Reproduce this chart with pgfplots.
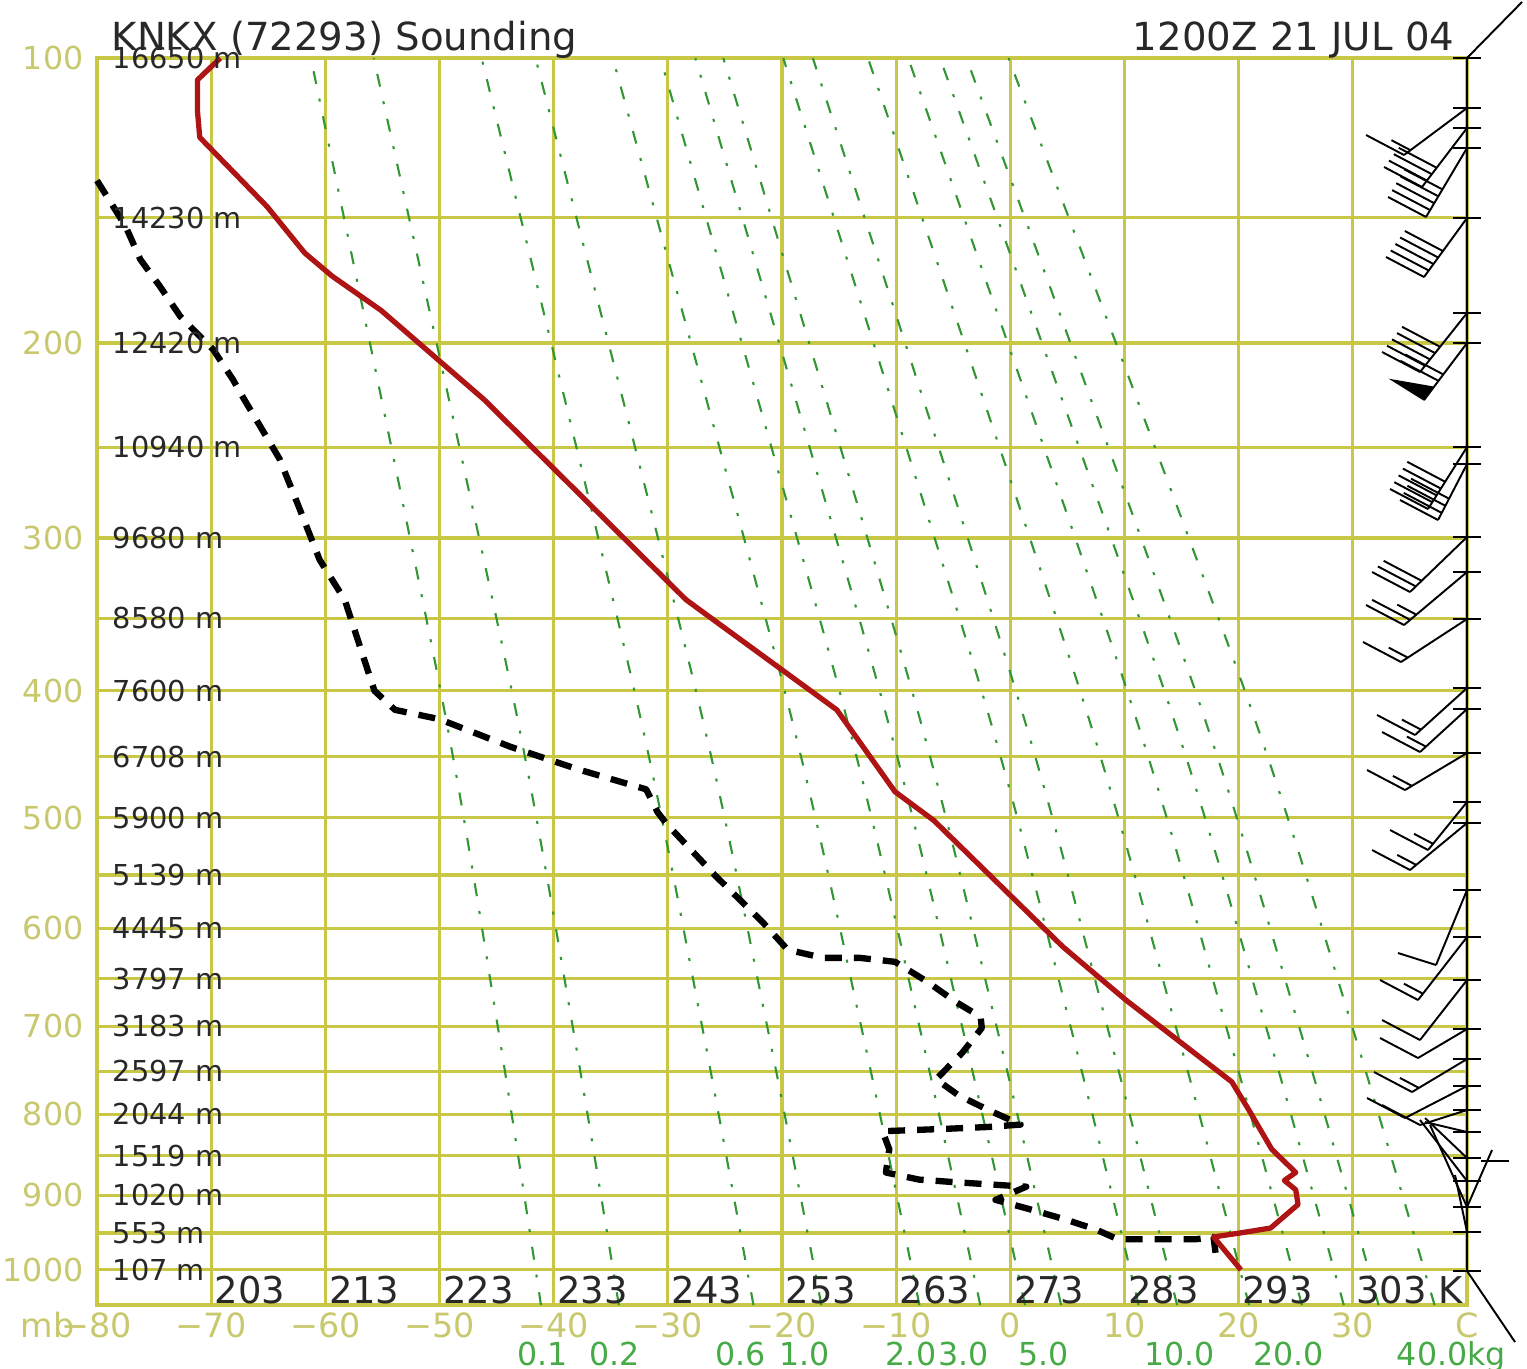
\documentclass[border=0pt]{standalone}
\usepackage{fontspec}
\setmainfont{DejaVu Sans}
\usepackage{pgfplots}
\pgfplotsset{compat=1.18}
\definecolor{gridcol}{RGB}{200,200,70}
\definecolor{labcol}{RGB}{200,200,110}
\definecolor{tcol}{RGB}{175,20,20}
\definecolor{mixcol}{RGB}{50,150,50}
\definecolor{mixlab}{RGB}{70,170,70}
\definecolor{txt}{RGB}{40,40,40}
\tikzset{
  hl/.style={anchor=west, xshift=0.15cm, font=\fontsize{8.2}{9}\selectfont, text=txt, inner sep=0pt},
  pl/.style={anchor=east, xshift=-0.13cm, font=\fontsize{9}{9}\selectfont, text=labcol, inner sep=0pt},
  kl/.style={anchor=base west, xshift=0.03cm, yshift=0.02cm, font=\fontsize{10.5}{11}\selectfont, text=txt, inner sep=0pt},
  cl/.style={anchor=base, yshift=-0.32cm, font=\fontsize{9.5}{10}\selectfont, text=labcol, inner sep=0pt},
  ml/.style={anchor=base, yshift=-0.60cm, font=\fontsize{9}{9}\selectfont, text=mixlab, inner sep=0pt},
}
\begin{document}
\begin{tikzpicture}
\begin{axis}[
  width=13.70cm, height=12.47cm, scale only axis,
  xmin=-80, xmax=40, ymin=100, ymax=1050,
  y dir=reverse,
  y coord trafo/.code={\pgfmathparse{exp(0.286*ln(#1))}},
  y coord inv trafo/.code={\pgfmathparse{exp(ln(#1)/0.286)}},
  xtick={-80,-70,-60,-50,-40,-30,-20,-10,0,10,20,30,40},
  ytick={100,150,200,250,300,350,400,450,500,550,600,650,700,750,800,850,900,950,1000},
  xticklabel=\empty, yticklabel=\empty,
  major tick length=0pt,
  grid=major,
  major grid style={gridcol, line width=0.9pt},
  axis line style={gridcol, line width=0.9pt},
  clip=false,
  mixr/.style={mixcol, line width=0.6pt, smooth, dash pattern=on 0.13cm off 0.15cm on 0.03cm off 0.15cm},
]
% mixing ratio lines (g/kg): 0.1 0.2 0.6 1 2 3 4 5 8 10 15 20 25 30 40
\addplot[mixr] coordinates {(-41.11,1050) (-44.90,700) (-49.90,400) (-61.27,100)};
\addplot[mixr] coordinates {(-34.29,1050) (-38.34,700) (-43.67,400) (-55.76,100)};
\addplot[mixr] coordinates {(-22.50,1050) (-27.00,700) (-32.93,400) (-46.31,100)};
\addplot[mixr] coordinates {(-16.55,1050) (-21.30,700) (-27.54,400) (-41.59,100)};
\addplot[mixr] coordinates {(-7.96,1050) (-13.07,700) (-19.77,400) (-34.82,100)};
\addplot[mixr] coordinates {(-2.63,1050) (-7.97,700) (-14.97,400) (-30.65,100)};
\addplot[mixr] coordinates {(1.29,1050) (-4.23,700) (-11.45,400) (-27.59,100)};
\addplot[mixr] coordinates {(4.45,1050) (-1.21,700) (-8.61,400) (-25.14,100)};
\addplot[mixr] coordinates {(11.24,1050) (5.27,700) (-2.52,400) (-19.89,100)};
\addplot[mixr] coordinates {(14.61,1050) (8.48,700) (0.48,400) (-17.30,100)};
\addplot[mixr] coordinates {(20.91,1050) (14.48,700) (6.11,400) (-12.47,100)};
\addplot[mixr] coordinates {(25.54,1050) (18.89,700) (10.23,400) (-8.95,100)};
\addplot[mixr] coordinates {(29.21,1050) (22.38,700) (13.49,400) (-6.16,100)};
\addplot[mixr] coordinates {(32.26,1050) (25.28,700) (16.20,400) (-3.85,100)};
\addplot[mixr] coordinates {(37.16,1050) (29.93,700) (20.54,400) (-0.16,100)};
% dewpoint
\addplot[black, line width=1.8pt, line join=round, dash pattern=on 0.17cm off 0.12cm] table[x=T, y=p] {
p T
137 -80.0
153 -77.5
165.5 -76.2
176 -74.5
188.5 -72.7
203 -69.8
216.5 -68.1
226 -67.1
256 -64.0
284 -62.2
313 -60.5
338 -58.3
400 -55.7
414 -53.9
421 -50.0
442 -43.8
460 -37.8
476 -31.9
495 -30.9
505 -30.1
551 -25.8
594 -21.7
621 -19.5
629 -16.4
629 -13.2
633 -10.1
653 -7.3
674 -4.8
690 -2.6
702 -2.5
729 -4.2
759 -6.5
778 -4.5
795 -1.9
812 0.9
815 -2.1
817 -5.4
820 -11.2
842 -10.6
871 -10.9
880 -8.0
883 -5.1
886 -1.9
889 1.4
906 -1.3
919 1.9
932 4.9
945 7.5
958 9.4
958 12.4
958 16.3
955 17.8
992 18.1
};
% temperature
\addplot[tcol, line width=1.5pt, line join=round] table[x=T, y=p] {
p T
100 -69.2
106 -71.2
115 -71.2
123 -71.0
146 -65.1
163 -61.8
172 -59.4
186 -55.1
226 -46.1
338 -28.4
414 -15.2
478 -10.1
502 -6.7
618 4.6
672 10.1
762 19.4
795 20.9
842 22.9
871 25.0
881 24.0
893 25.0
912 25.2
943 22.8
950 20.0
955 17.8
1000 20.2
};
% titles
\node[anchor=base west, xshift=0.14cm, yshift=0.07cm, font=\fontsize{11}{11}\selectfont, text=txt, inner sep=0pt] at (axis cs:-80,100) {KNKX (72293) Sounding};
\node[anchor=base east, xshift=-0.12cm, yshift=0.07cm, font=\fontsize{11}{11}\selectfont, text=txt, inner sep=0pt] at (axis cs:40,100) {1200Z 21 JUL 04};
% pressure labels
\node[pl] at (axis cs:-80,100) {100};
\node[pl] at (axis cs:-80,200) {200};
\node[pl] at (axis cs:-80,300) {300};
\node[pl] at (axis cs:-80,400) {400};
\node[pl] at (axis cs:-80,500) {500};
\node[pl] at (axis cs:-80,600) {600};
\node[pl] at (axis cs:-80,700) {700};
\node[pl] at (axis cs:-80,800) {800};
\node[pl] at (axis cs:-80,900) {900};
\node[pl] at (axis cs:-80,1000) {1000};
% heights
\node[hl] at (axis cs:-80,100) {16650 m};
\node[hl] at (axis cs:-80,150) {14230 m};
\node[hl] at (axis cs:-80,200) {12420 m};
\node[hl] at (axis cs:-80,250) {10940 m};
\node[hl] at (axis cs:-80,300) {9680 m};
\node[hl] at (axis cs:-80,350) {8580 m};
\node[hl] at (axis cs:-80,400) {7600 m};
\node[hl] at (axis cs:-80,450) {6708 m};
\node[hl] at (axis cs:-80,500) {5900 m};
\node[hl] at (axis cs:-80,550) {5139 m};
\node[hl] at (axis cs:-80,600) {4445 m};
\node[hl] at (axis cs:-80,650) {3797 m};
\node[hl] at (axis cs:-80,700) {3183 m};
\node[hl] at (axis cs:-80,750) {2597 m};
\node[hl] at (axis cs:-80,800) {2044 m};
\node[hl] at (axis cs:-80,850) {1519 m};
\node[hl] at (axis cs:-80,900) {1020 m};
\node[hl] at (axis cs:-80,950) {553 m};
\node[hl] at (axis cs:-80,1000) {107 m};
% Kelvin labels
\node[kl] at (axis cs:-70,1050) {203};
\node[kl] at (axis cs:-60,1050) {213};
\node[kl] at (axis cs:-50,1050) {223};
\node[kl] at (axis cs:-40,1050) {233};
\node[kl] at (axis cs:-30,1050) {243};
\node[kl] at (axis cs:-20,1050) {253};
\node[kl] at (axis cs:-10,1050) {263};
\node[kl] at (axis cs:0,1050) {273};
\node[kl] at (axis cs:10,1050) {283};
\node[kl] at (axis cs:20,1050) {293};
\node[kl] at (axis cs:30,1050) {303 K};
% Celsius labels
\node[cl] at (axis cs:-80,1050) [anchor=base east, xshift=-0.22cm] {mb};
\node[cl] at (axis cs:-80,1050) {−80};
\node[cl] at (axis cs:-70,1050) {−70};
\node[cl] at (axis cs:-60,1050) {−60};
\node[cl] at (axis cs:-50,1050) {−50};
\node[cl] at (axis cs:-40,1050) {−40};
\node[cl] at (axis cs:-30,1050) {−30};
\node[cl] at (axis cs:-20,1050) {−20};
\node[cl] at (axis cs:-10,1050) {−10};
\node[cl] at (axis cs:0,1050) {0};
\node[cl] at (axis cs:10,1050) {10};
\node[cl] at (axis cs:20,1050) {20};
\node[cl] at (axis cs:30,1050) {30};
\node[cl] at (axis cs:40,1050) {C};
% mixing ratio labels
\node[ml] at (axis cs:-41.0,1050) {0.1};
\node[ml] at (axis cs:-34.7,1050) {0.2};
\node[ml] at (axis cs:-23.6,1050) {0.6};
\node[ml] at (axis cs:-18.0,1050) {1.0};
\node[ml] at (axis cs:-8.7,1050) {2.0};
\node[ml] at (axis cs:-4.1,1050) {3.0};
\node[ml] at (axis cs:2.9,1050) {5.0};
\node[ml] at (axis cs:14.8,1050) {10.0};
\node[ml] at (axis cs:24.4,1050) {20.0};
\node[ml] at (axis cs:33.8,1050) [anchor=base west] {40.0kg};
\end{axis}
% wind barbs, drawn in a pixel-unit overlay axis
\begin{axis}[
  width=13.70cm, height=12.47cm, scale only axis,
  xmin=97, xmax=1467, ymin=58, ymax=1305, y dir=reverse,
  hide axis, clip=false,
]
\addplot[black, line width=0.55pt, quiver={u=\thisrow{u}, v=\thisrow{v}}] table {
x y u v
1467 58 0 1213
1453 58 28 0
1453 108 28 0
1453 128 28 0
1453 148 28 0
1453 218 28 0
1453 313 28 0
1453 343 28 0
1453 447 28 0
1453 464 28 0
1453 537 28 0
1453 572 28 0
1453 619 28 0
1453 688 28 0
1453 709 28 0
1453 753 28 0
1453 802 28 0
1453 823 28 0
1453 890 28 0
1453 937 28 0
1453 980 28 0
1453 1029 28 0
1453 1059 28 0
1453 1086 28 0
1453 1110 28 0
1453 1132 28 0
1453 1158 28 0
1453 1181 28 0
1453 1207 28 0
1453 1232 28 0
1453 1271 28 0
1481 1161 28 0
1467 58 55 -56
1404 155 63 -47
1422 187 45 -59
1426 217 41 -69
1424 277 43 -59
1420 372 47 -59
1424 400 43 -57
1428 509 39 -62
1438 520 29 -56
1410 592 57 -55
1404 625 63 -53
1401 662 66 -43
1415 735 52 -47
1420 752 47 -43
1405 790 62 -37
1428 850 39 -48
1410 870 57 -47
1436 965 31 -75
1418 1000 49 -63
1420 1040 47 -60
1418 1058 49 -29
1412 1092 55 -33
1405 1118 62 -32
1420 1125 47 -15
1425 1122 42 10
1425 1118 42 40
1420 1120 47 61
1430 1125 37 82
1455 1175 12 57
1467 1271 48 71
1467 1207 25 -57
1404 155 -38 -20
1410.4 150.2 -19 -10
1422 187 -38 -20
1426.9 180.6 -38 -20
1431.8 174.2 -38 -20
1436.7 167.8 -38 -20
1426 217 -38 -20
1430.1 210.1 -38 -20
1434.2 203.2 -38 -20
1438.3 196.3 -38 -20
1442.4 189.4 -38 -20
1424 277 -38 -20
1428.7 270.5 -38 -20
1433.4 264 -38 -20
1438.1 257.5 -38 -20
1442.8 251 -38 -20
1420 372 -38 -20
1425 365.7 -38 -20
1430 359.4 -38 -20
1435 353.1 -38 -20
1440 346.8 -38 -20
1438.4 380.8 -38 -20
1443.2 374.4 -38 -20
1428 509 -38 -20
1432.3 502.2 -38 -20
1436.6 495.4 -38 -20
1440.9 488.6 -38 -20
1445.2 481.8 -38 -20
1438 520 -38 -20
1441.7 512.9 -38 -20
1445.4 505.8 -38 -20
1449.1 498.7 -38 -20
1410 592 -38 -20
1415.8 586.4 -38 -20
1421.6 580.8 -38 -20
1404 625 -38 -20
1410.1 619.8 -38 -20
1416.2 614.6 -19 -10
1401 662 -38 -20
1407.7 657.6 -19 -10
1415 735 -38 -20
1420.9 729.6 -19 -10
1420 752 -38 -20
1425.9 746.6 -19 -10
1405 790 -38 -20
1411.9 785.9 -19 -10
1428 850 -38 -20
1433 843.8 -19 -10
1410 870 -38 -20
1416.2 864.9 -19 -10
1436 965 -38 -12
1418 1000 -38 -20
1422.9 993.7 -19 -10
1420 1040 -38 -20
1418 1058 -38 -20
1412 1092 -38 -20
1418.9 1087.9 -19 -10
1405 1118 -38 -20
1420 1125 -38 -20
};
\addplot[fill=black, draw=black, line width=0.4pt] coordinates {(1424,400) (1433.6,387.2) (1392,380) (1424,400)};
\end{axis}
\pgfresetboundingbox
\path[use as bounding box] (-0.97,-0.63) rectangle (14.30,13.05);
\end{tikzpicture}
\end{document}
